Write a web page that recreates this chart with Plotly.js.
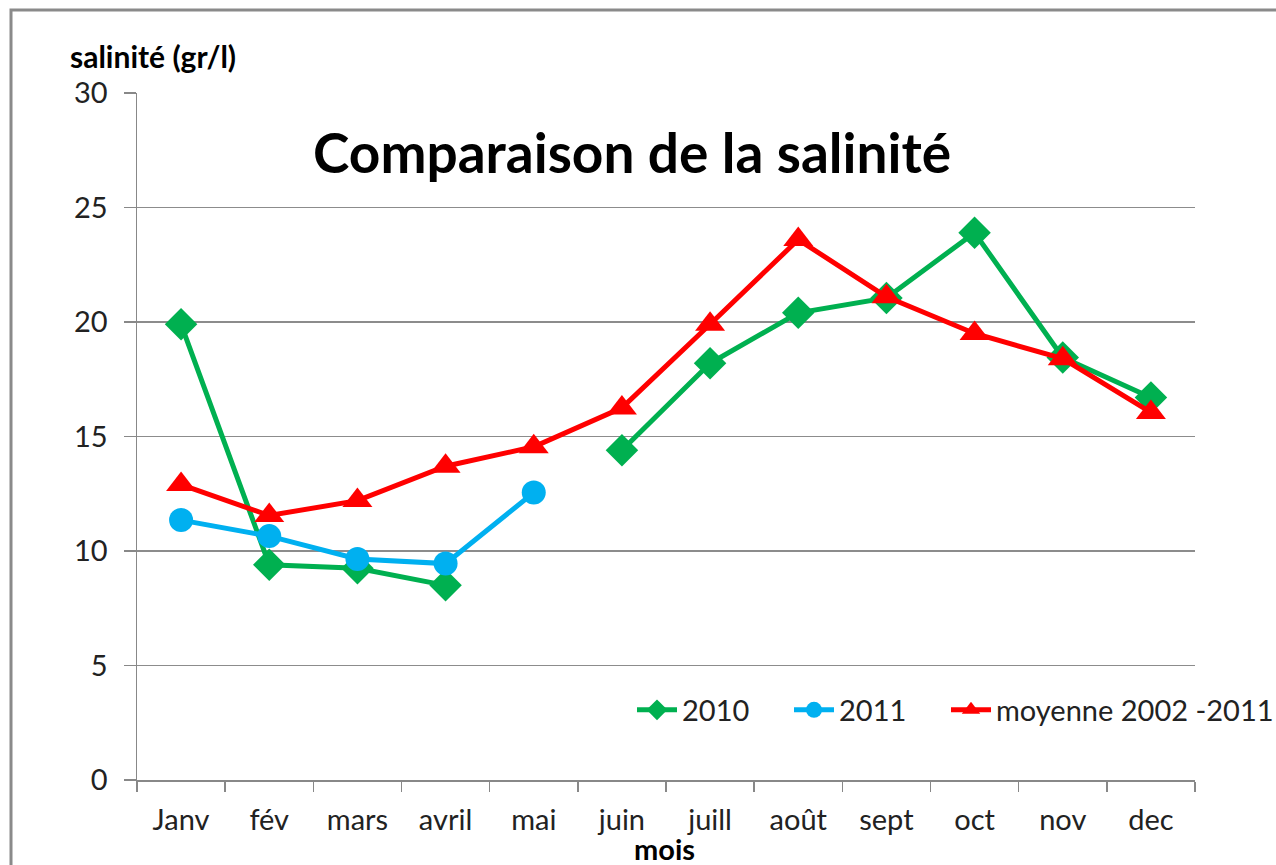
<!DOCTYPE html>
<html>
<head>
<meta charset="utf-8">
<script src="https://cdn.plot.ly/plotly-3.0.1.min.js"></script>
<style>
html,body{margin:0;padding:0;background:#fff;overflow:hidden;}
#chart{width:1276px;height:865px;}
</style>
</head>
<body>
<div id="chart"></div>
<script>
const months = ["Janv","fév","mars","avril","mai","juin","juill","août","sept","oct","nov","dec"];
const s2010 = [19.9, 9.4, 9.25, 8.5, null, 14.4, 18.2, 20.4, 21.05, 23.9, 18.45, 16.7];
const s2011 = [11.35, 10.65, 9.65, 9.45, 12.55];
const moyenne = [12.9, 11.55, 12.2, 13.7, 14.55, 16.25, 19.9, 23.6, 21.1, 19.5, 18.4, 16.05];
const seriesNames = ["2010","2011","moyenne 2002 -2011"];
const yTicks = [0,5,10,15,20,25,30];

const FONT = "Lato, 'Open Sans', sans-serif";
const W = 1276, H = 865;
const L = 137, R = 81, T = 93, B = 85;
const pw = W - L - R, ph = H - T - B;
const px = x => (x - L) / pw;
const py = y => (H - B - y) / ph;

const traces = [
  {x: months, y: s2010, name: seriesNames[0], type: "scatter", mode: "lines+markers", legend: "legend",
   line: {color: "#00B050", width: 5}, marker: {symbol: "diamond", size: 25, color: "#00B050"},
   connectgaps: false},
  {x: months.slice(0, s2011.length), y: s2011, name: seriesNames[1], type: "scatter", mode: "lines+markers", legend: "legend2",
   line: {color: "#00B0F0", width: 5}, marker: {symbol: "circle", size: 24, color: "#00B0F0"}},
  {x: months, y: moyenne, name: seriesNames[2], type: "scatter", mode: "lines+markers", legend: "legend3",
   line: {color: "#FF0000", width: 5}, marker: {symbol: "triangle-up", size: 26, color: "#FF0000"}}
];

function legendAt(xpix) {
  return {orientation: "h", x: px(xpix), y: py(710), xanchor: "left", yanchor: "middle",
          bgcolor: "rgba(255,255,255,0)", font: {family: FONT, size: 29, color: "#222"},
          itemwidth: 40};
}

const layout = {
  width: W, height: H,
  margin: {l: L, r: R, t: T, b: B, pad: 0, autoexpand: false},
  paper_bgcolor: "#fff", plot_bgcolor: "#fff",
  font: {family: FONT, size: 29, color: "#222"},
  showlegend: true,
  legend: legendAt(632),
  legend2: legendAt(789),
  legend3: legendAt(946),
  xaxis: {type: "category", categoryorder: "array", categoryarray: months,
          range: [-0.5, 11.5], showgrid: false, showline: true, linecolor: "#888", linewidth: 1.5,
          ticks: "outside", ticklen: 10, tickcolor: "#888", tickwidth: 1.5, tickson: "boundaries",
          ticklabelstandoff: 14, automargin: false,
          tickfont: {family: FONT, size: 29, color: "#222"}, zeroline: false, fixedrange: true},
  yaxis: {range: [0, 30], tickvals: yTicks, showgrid: true, gridcolor: "#8c8c8c", gridwidth: 1.5,
          showline: true, linecolor: "#888", linewidth: 1.5, ticks: "outside", ticklen: 12,
          tickcolor: "#888", tickwidth: 1.5, zeroline: false, ticklabelstandoff: 10, automargin: false,
          tickfont: {family: FONT, size: 29, color: "#222"}, fixedrange: true},
  annotations: [
    {text: "<b>Comparaison de la salinité</b>", xref: "paper", yref: "paper",
     x: px(632), y: py(152), xanchor: "center", yanchor: "middle", showarrow: false,
     font: {family: FONT, size: 55, color: "#000"}},
    {text: "<b>salinité (gr/l)</b>", xref: "paper", yref: "paper",
     x: px(68), y: py(56), xanchor: "left", yanchor: "middle", showarrow: false,
     font: {family: FONT, size: 30, color: "#000"}},
    {text: "<b>mois</b>", xref: "paper", yref: "paper",
     x: px(664), y: py(848), xanchor: "center", yanchor: "middle", showarrow: false,
     font: {family: FONT, size: 29, color: "#000"}}
  ],
  shapes: [
    {type: "rect", xref: "paper", yref: "paper", x0: px(11), x1: px(1300), y0: py(10), y1: py(900),
     line: {color: "#8a8a8a", width: 3}, fillcolor: "rgba(0,0,0,0)", layer: "below"}
  ]
};

Plotly.newPlot("chart", traces, layout, {displayModeBar: false, staticPlot: true});
</script>
</body>
</html>
